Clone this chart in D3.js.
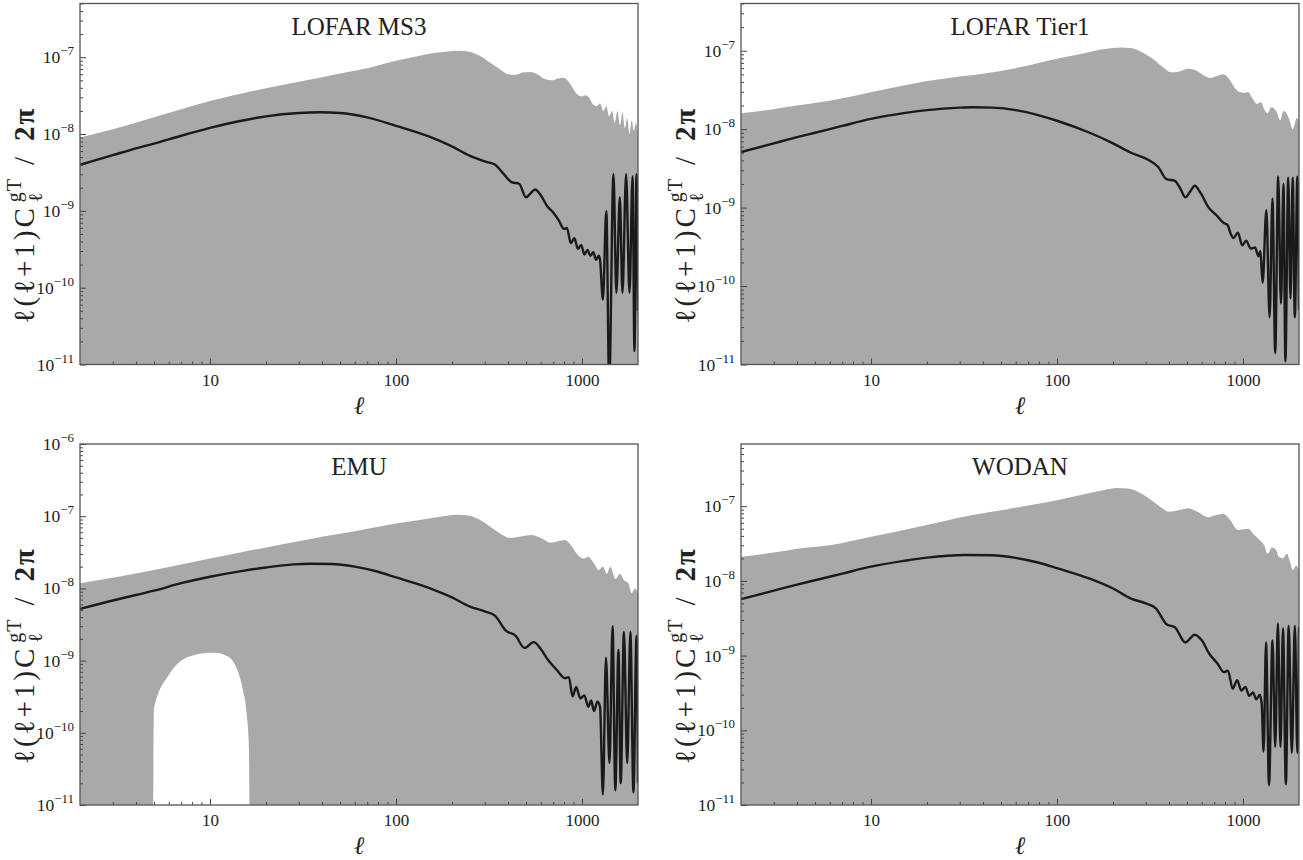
<!DOCTYPE html>
<html><head><meta charset="utf-8">
<script src="https://cdn.jsdelivr.net/npm/d3@7"></script>
<style>
body{margin:0;background:#fff}
svg{display:block}
text{font-family:"Liberation Serif","DejaVu Serif","Times New Roman",serif;fill:#222}
</style>
</head><body>
<svg id="chart" width="1303" height="860"></svg>
<script>
// ---------------- DATA ----------------
const titles = ["LOFAR MS3", "LOFAR Tier1", "EMU", "WODAN"];
const xTickValues = [10, 100, 1000];
const xTickLabels = ["10", "100", "1000"];
const yTickExponents = [-11, -10, -9, -8, -7, -6];
const yAxisMax = [5e-7, 4e-7, 1e-6, 6.8e-7];

// LOFAR MS3
const ms3BandL = [2,3,5,7,10,15,20,30,40,55,70,100,130,160,190,220,250,280,320,360,400,440,480,530,580,630,690,740,790,830,880,930,990,1050,1100,1150,1200,1250,1300,1350,1400,1450,1500,1550,1600,1650,1700,1750,1800,1850,1900,1950,2000];
const ms3BandV = [9.0e-9,1.15e-8,1.65e-8,2.1e-8,2.7e-8,3.4e-8,3.95e-8,4.8e-8,5.5e-8,6.4e-8,7.2e-8,9.0e-8,1.03e-7,1.13e-7,1.19e-7,1.21e-7,1.17e-7,1.05e-7,8.5e-8,7.0e-8,6.0e-8,5.9e-8,6.3e-8,6.4e-8,5.9e-8,5.2e-8,5.0e-8,5.3e-8,5.4e-8,5.1e-8,4.2e-8,3.4e-8,3.1e-8,3.2e-8,2.9e-8,2.4e-8,2.3e-8,2.5e-8,2.0e-8,2.3e-8,1.7e-8,2.0e-8,1.4e-8,2.0e-8,1.3e-8,1.9e-8,1.2e-8,1.6e-8,1.0e-8,1.5e-8,1.1e-8,1.4e-8,9.0e-9];
const ms3LineL = [2,3,4,5,7,10,15,20,30,39,50,70,100,150,200,250,300,340,380,420,460,500,530,560,600,650,700,750,800,830,870,910,950,990,1030,1070,1110,1150,1190,1230,1250,1295,1351,1400,1476,1530,1597,1650,1726,1800,1870,1914,1964,2000];
const ms3LineV = [3.97e-9,5.3e-9,6.5e-9,7.5e-9,9.5e-9,1.2e-8,1.5e-8,1.7e-8,1.88e-8,1.92e-8,1.88e-8,1.65e-8,1.28e-8,9.3e-9,6.9e-9,5.2e-9,4.4e-9,4.0e-9,3.0e-9,2.35e-9,2.25e-9,1.5e-9,1.7e-9,1.9e-9,1.6e-9,1.15e-9,9.5e-10,7.5e-10,5.8e-10,6.0e-10,3.8e-10,4.4e-10,3.2e-10,3.6e-10,2.7e-10,3.1e-10,2.6e-10,2.9e-10,2.3e-10,2.6e-10,2.3e-10,7e-11,1.0e-9,5e-12,3.0e-9,8.6e-11,1.5e-9,8.6e-11,3.0e-9,8.6e-11,2.8e-9,1.5e-11,3.0e-9,5e-11];

// LOFAR Tier1
const tier1BandL = [2,3,4,6,10,15,20,30,40,60,100,140,180,220,250,280,330,370,410,450,505,560,620,668,730,785,840,900,950,1010,1068,1120,1190,1250,1300,1357,1420,1506,1585,1650,1710,1780,1850,1950,2000];
const tier1BandV = [1.6e-8,1.8e-8,2.0e-8,2.3e-8,2.95e-8,3.6e-8,4.1e-8,4.7e-8,5.1e-8,6.0e-8,7.9e-8,9.3e-8,1.05e-7,1.1e-7,1.08e-7,9.8e-8,7.8e-8,6.2e-8,5.3e-8,5.4e-8,5.9e-8,5.6e-8,4.8e-8,4.5e-8,4.8e-8,5.0e-8,4.4e-8,3.4e-8,3.0e-8,2.9e-8,2.95e-8,2.5e-8,2.1e-8,2.2e-8,1.8e-8,1.6e-8,1.9e-8,1.7e-8,1.3e-8,1.7e-8,1.6e-8,1.3e-8,1.0e-8,1.4e-8,1.2e-8];
const tier1LineL = [2,3,4,5,7,10,15,20,30,35,45,60,80,100,150,200,250,314,350,388,430,460,490,520,550,590,654,720,785,826,860,890,939,990,1040,1100,1160,1210,1240,1275,1335,1390,1440,1490,1545,1600,1650,1690,1750,1800,1850,1900,1960,2000];
const tier1LineV = [5.1e-9,6.6e-9,7.9e-9,9.0e-9,1.1e-8,1.35e-8,1.6e-8,1.75e-8,1.88e-8,1.9e-8,1.88e-8,1.75e-8,1.5e-8,1.28e-8,9.0e-9,6.6e-9,5.0e-9,4.0e-9,3.3e-9,2.3e-9,2.2e-9,1.75e-9,1.35e-9,1.6e-9,1.9e-9,1.55e-9,1.0e-9,8e-10,6.4e-10,6.0e-10,4.6e-10,4.1e-10,4.8e-10,3.3e-10,3.8e-10,3.0e-10,3.1e-10,2.4e-10,2.8e-10,1.1e-10,9.3e-10,4e-11,1.3e-9,1.4e-11,2.5e-9,6e-11,2.0e-9,1.1e-11,2.4e-9,7e-11,2.4e-9,4e-11,2.5e-9,5e-11];

// EMU
const emuBandL = [2,3,5,7,10,15,20,30,40,60,100,140,180,210,240,280,330,370,412,460,534,600,680,740,810,870,940,1023,1080,1150,1230,1295,1360,1420,1515,1600,1680,1770,1850,1930,2000];
const emuBandV = [1.18e-8,1.4e-8,1.8e-8,2.15e-8,2.6e-8,3.2e-8,3.7e-8,4.5e-8,5.2e-8,6.2e-8,7.9e-8,9.0e-8,1.0e-7,1.05e-7,1.03e-7,9.0e-8,6.8e-8,5.6e-8,5.0e-8,5.2e-8,5.5e-8,5.0e-8,4.3e-8,4.5e-8,4.7e-8,4.0e-8,3.0e-8,2.6e-8,2.75e-8,2.3e-8,1.8e-8,2.0e-8,1.6e-8,2.0e-8,1.35e-8,1.6e-8,1.3e-8,1.2e-8,8.6e-9,1.0e-8,8.5e-9];
const emuHoleL = [4.95,5.0,6,7,8,9,10,11,12,13,14,15,15.8,16.2,16.3];
const emuHoleV = [1e-12,2.2e-10,6.3e-10,1.0e-9,1.17e-9,1.25e-9,1.28e-9,1.27e-9,1.2e-9,1.05e-9,7.5e-10,4.0e-10,1.7e-10,5.8e-11,1e-12];
const emuLineL = [2,3,4,5,7,10,15,20,28,35,45,60,80,100,150,200,250,300,340,390,440,490,550,600,660,730,810,850,890,930,980,1030,1080,1120,1160,1210,1250,1295,1345,1405,1460,1510,1570,1615,1680,1750,1820,1890,1964,2000];
const emuLineV = [5.2e-9,6.8e-9,8.1e-9,9.3e-9,1.18e-8,1.45e-8,1.75e-8,1.95e-8,2.15e-8,2.2e-8,2.18e-8,2.0e-8,1.7e-8,1.42e-8,1.02e-8,7.5e-9,5.6e-9,4.8e-9,4.2e-9,2.6e-9,2.2e-9,1.5e-9,1.8e-9,1.45e-9,1.0e-9,7.5e-10,5.7e-10,5.9e-10,3.2e-10,4.3e-10,3.0e-10,3.3e-10,2.3e-10,2.8e-10,2.0e-10,2.7e-10,2.3e-10,1.4e-11,1.1e-9,3.8e-11,3.0e-9,1.6e-11,1.4e-9,2e-11,2.5e-9,3.8e-11,2.5e-9,1.5e-11,2.2e-9,2e-11];

// WODAN
const wodanBandL = [2,3,4,6,10,15,20,33,50,70,100,140,180,210,240,280,330,370,400,450,505,570,650,720,785,850,940,1000,1068,1150,1230,1300,1357,1430,1506,1560,1640,1720,1790,1850,1930,2000];
const wodanBandV = [2.1e-8,2.4e-8,2.7e-8,3.0e-8,3.9e-8,4.8e-8,5.6e-8,7.4e-8,8.8e-8,1.02e-7,1.2e-7,1.45e-7,1.65e-7,1.75e-7,1.72e-7,1.5e-7,1.15e-7,9.3e-8,8.4e-8,8.8e-8,9.4e-8,8.4e-8,7.1e-8,7.6e-8,7.85e-8,6.6e-8,4.8e-8,4.9e-8,5.0e-8,4.1e-8,3.5e-8,3.0e-8,2.3e-8,2.8e-8,2.6e-8,2.1e-8,2.0e-8,2.3e-8,1.8e-8,1.4e-8,1.6e-8,1.4e-8];
const wodanLineL = [2,3,4,5,7,10,15,20,32,45,60,80,100,150,200,250,300,340,390,430,490,550,600,660,730,790,830,880,930,980,1030,1080,1130,1180,1230,1260,1290,1330,1380,1440,1490,1540,1590,1640,1700,1760,1830,1900,1960,2000];
const wodanLineV = [5.7e-9,7.4e-9,8.9e-9,1.02e-8,1.25e-8,1.55e-8,1.85e-8,2.05e-8,2.22e-8,2.2e-8,2.03e-8,1.75e-8,1.48e-8,1.07e-8,7.9e-9,5.8e-9,5.0e-9,4.3e-9,2.6e-9,2.4e-9,1.5e-9,1.9e-9,1.6e-9,1.05e-9,7.8e-10,6.0e-10,6.3e-10,3.6e-10,4.7e-10,3.4e-10,3.8e-10,2.9e-10,3.2e-10,2.6e-10,3.0e-10,2.3e-10,5.2e-11,1.5e-9,1.85e-11,1.6e-9,6e-11,2.7e-9,6e-11,2.3e-9,1.9e-11,2.5e-9,5e-11,2.5e-9,5e-11,2.4e-9];

// ---------------- LAYOUT ----------------
const panels = [
  {title: titles[0], bandL: ms3BandL, bandV: ms3BandV, lineL: ms3LineL, lineV: ms3LineV, yMax: yAxisMax[0], box: [80, 638, 3.5, 364.5]},
  {title: titles[1], bandL: tier1BandL, bandV: tier1BandV, lineL: tier1LineL, lineV: tier1LineV, yMax: yAxisMax[1], box: [741, 1299, 3.5, 364.5]},
  {title: titles[2], bandL: emuBandL, bandV: emuBandV, lineL: emuLineL, lineV: emuLineV, holeL: emuHoleL, holeV: emuHoleV, yMax: yAxisMax[2], box: [80, 638, 444, 805]},
  {title: titles[3], bandL: wodanBandL, bandV: wodanBandV, lineL: wodanLineL, lineV: wodanLineV, yMax: yAxisMax[3], box: [741, 1299, 444, 805]}
];

const FONT = '"Liberation Serif","DejaVu Serif","Times New Roman",serif';
const svg = d3.select("#chart");
const defs = svg.append("defs");

panels.forEach((p, i) => {
  const [x0, x1, y0, y1] = p.box;
  const x = d3.scaleLog().domain([2, 2000]).range([x0, x1]);
  const y = d3.scaleLog().domain([1e-11, p.yMax]).range([y1, y0]);
  const cid = "clip" + i;
  defs.append("clipPath").attr("id", cid).append("rect")
    .attr("x", x0).attr("y", y0).attr("width", x1 - x0).attr("height", y1 - y0);
  const g = svg.append("g");
  const pc = g.append("g").attr("clip-path", `url(#${cid})`);

  const band = p.bandL.map((l, k) => [l, p.bandV[k]]);
  pc.append("path").datum(band)
    .attr("d", d3.area().x(d => x(d[0])).y0(y1 + 5).y1(d => y(d[1])).curve(d3.curveMonotoneX))
    .attr("fill", "#a9a9a9");

  if (p.holeL) {
    const hole = p.holeL.map((l, k) => [l, p.holeV[k]]);
    pc.append("path").datum(hole)
      .attr("d", d3.area().x(d => x(d[0])).y0(y1 + 5).y1(d => Math.min(y(d[1]), y1 + 5)).curve(d3.curveMonotoneX))
      .attr("fill", "#ffffff");
  }

  const line = p.lineL.map((l, k) => [l, p.lineV[k]]);
  pc.append("path").datum(line)
    .attr("d", d3.line().x(d => x(d[0])).y(d => Math.min(y(d[1]), y1 + 20)).curve(d3.curveMonotoneX))
    .attr("fill", "none").attr("stroke", "#1a1a1a").attr("stroke-width", 2.4).attr("stroke-linejoin", "round");

  // ticks
  const xMinor = [];
  [1, 10, 100, 1000].forEach(dec => { for (let k = 2; k <= 9; k++) { const v = k * dec; if (v > 2 && v < 2000 && !xTickValues.includes(v)) xMinor.push(v); } });
  const xMajorAxis = d3.axisBottom(x).tickValues(xTickValues).tickSize(-6).tickPadding(9)
    .tickFormat((d, k) => xTickLabels[k]);
  const xMinorAxis = d3.axisBottom(x).tickValues(xMinor).tickSize(-3).tickFormat("");
  const gx = g.append("g").attr("transform", `translate(0,${y1})`).call(xMajorAxis);
  const gxm = g.append("g").attr("transform", `translate(0,${y1})`).call(xMinorAxis);
  [gx, gxm].forEach(a => { a.select(".domain").remove(); a.selectAll("line").attr("stroke", "#444"); });
  gx.attr("font-family", FONT);
  gx.selectAll("text").attr("font-size", 17).attr("font-family", FONT).attr("fill", "#222");

  const yMajor = yTickExponents.filter(e => Math.pow(10, e) <= p.yMax * 1.0001).map(e => Math.pow(10, e));
  const yMinor = [];
  yTickExponents.forEach(e => { for (let k = 2; k <= 9; k++) { const v = k * Math.pow(10, e); if (v <= p.yMax) yMinor.push(v); } });
  const gy = g.append("g").attr("transform", `translate(${x0},0)`)
    .call(d3.axisLeft(y).tickValues(yMajor).tickSize(-6).tickFormat(""));
  const gym = g.append("g").attr("transform", `translate(${x0},0)`)
    .call(d3.axisLeft(y).tickValues(yMinor).tickSize(-3).tickFormat(""));
  [gy, gym].forEach(a => { a.select(".domain").remove(); a.selectAll("line").attr("stroke", "#444"); });

  const exps = yTickExponents.filter(e => Math.pow(10, e) <= p.yMax * 1.0001);
  const lab = g.append("g").selectAll("text").data(exps).join("text")
    .attr("x", x0 - 6).attr("y", e => y(Math.pow(10, e)) + 6)
    .attr("text-anchor", "end").attr("font-family", FONT).attr("font-size", 17.5);
  lab.append("tspan").text("10");
  lab.append("tspan").attr("font-size", 13).attr("dy", -8).text(e => "\u2212" + Math.abs(e));

  // frame
  g.append("rect").attr("x", x0).attr("y", y0).attr("width", x1 - x0).attr("height", y1 - y0)
    .attr("fill", "none").attr("stroke", "#555").attr("stroke-width", 1.3);

  const cx = (x0 + x1) / 2;
  g.append("text").attr("x", cx).attr("y", y0 + 31).attr("text-anchor", "middle")
    .attr("font-size", 25).text(p.title);

  g.append("text").attr("x", cx).attr("y", y1 + 49).attr("text-anchor", "middle")
    .attr("font-family", '"DejaVu Serif",serif')
    .attr("font-size", 25).attr("font-style", "italic").text("\u2113");

  // y label
  const cyL = (y0 + y1) / 2 + 31;
  const yl = g.append("g").attr("transform", `translate(${x0 - 46},${cyL}) rotate(-90)`);
  const inner = yl.append("g");
  const t1 = inner.append("text").attr("x", 0).attr("y", 0).attr("font-size", 29).attr("letter-spacing", 3).text("\u2113(\u2113+1)C");
  const w1 = t1.node().getComputedTextLength();
  const t2 = inner.append("text").attr("x", w1 + 3).attr("y", -13).attr("font-size", 20).attr("letter-spacing", 1).text("gT");
  const t3 = inner.append("text").attr("x", w1 + 3).attr("y", 8).attr("font-size", 20).text("\u2113");
  const w2 = Math.max(t2.node().getComputedTextLength(), t3.node().getComputedTextLength());
  const t4 = inner.append("text").attr("x", w1 + w2 + 16).attr("y", 0).attr("font-size", 29).text("/");
  const w4 = t4.node().getComputedTextLength();
  const t5 = inner.append("text").attr("x", w1 + w2 + 16 + w4 + 16).attr("y", 0).attr("font-size", 29).attr("font-weight", "bold").attr("letter-spacing", 2).text("2\u03c0");
  const w5 = t5.node().getComputedTextLength();
  const total = w1 + w2 + 32 + w4 + w5;
  inner.attr("transform", `translate(${-total / 2},0)`);
});
</script>
</body></html>
